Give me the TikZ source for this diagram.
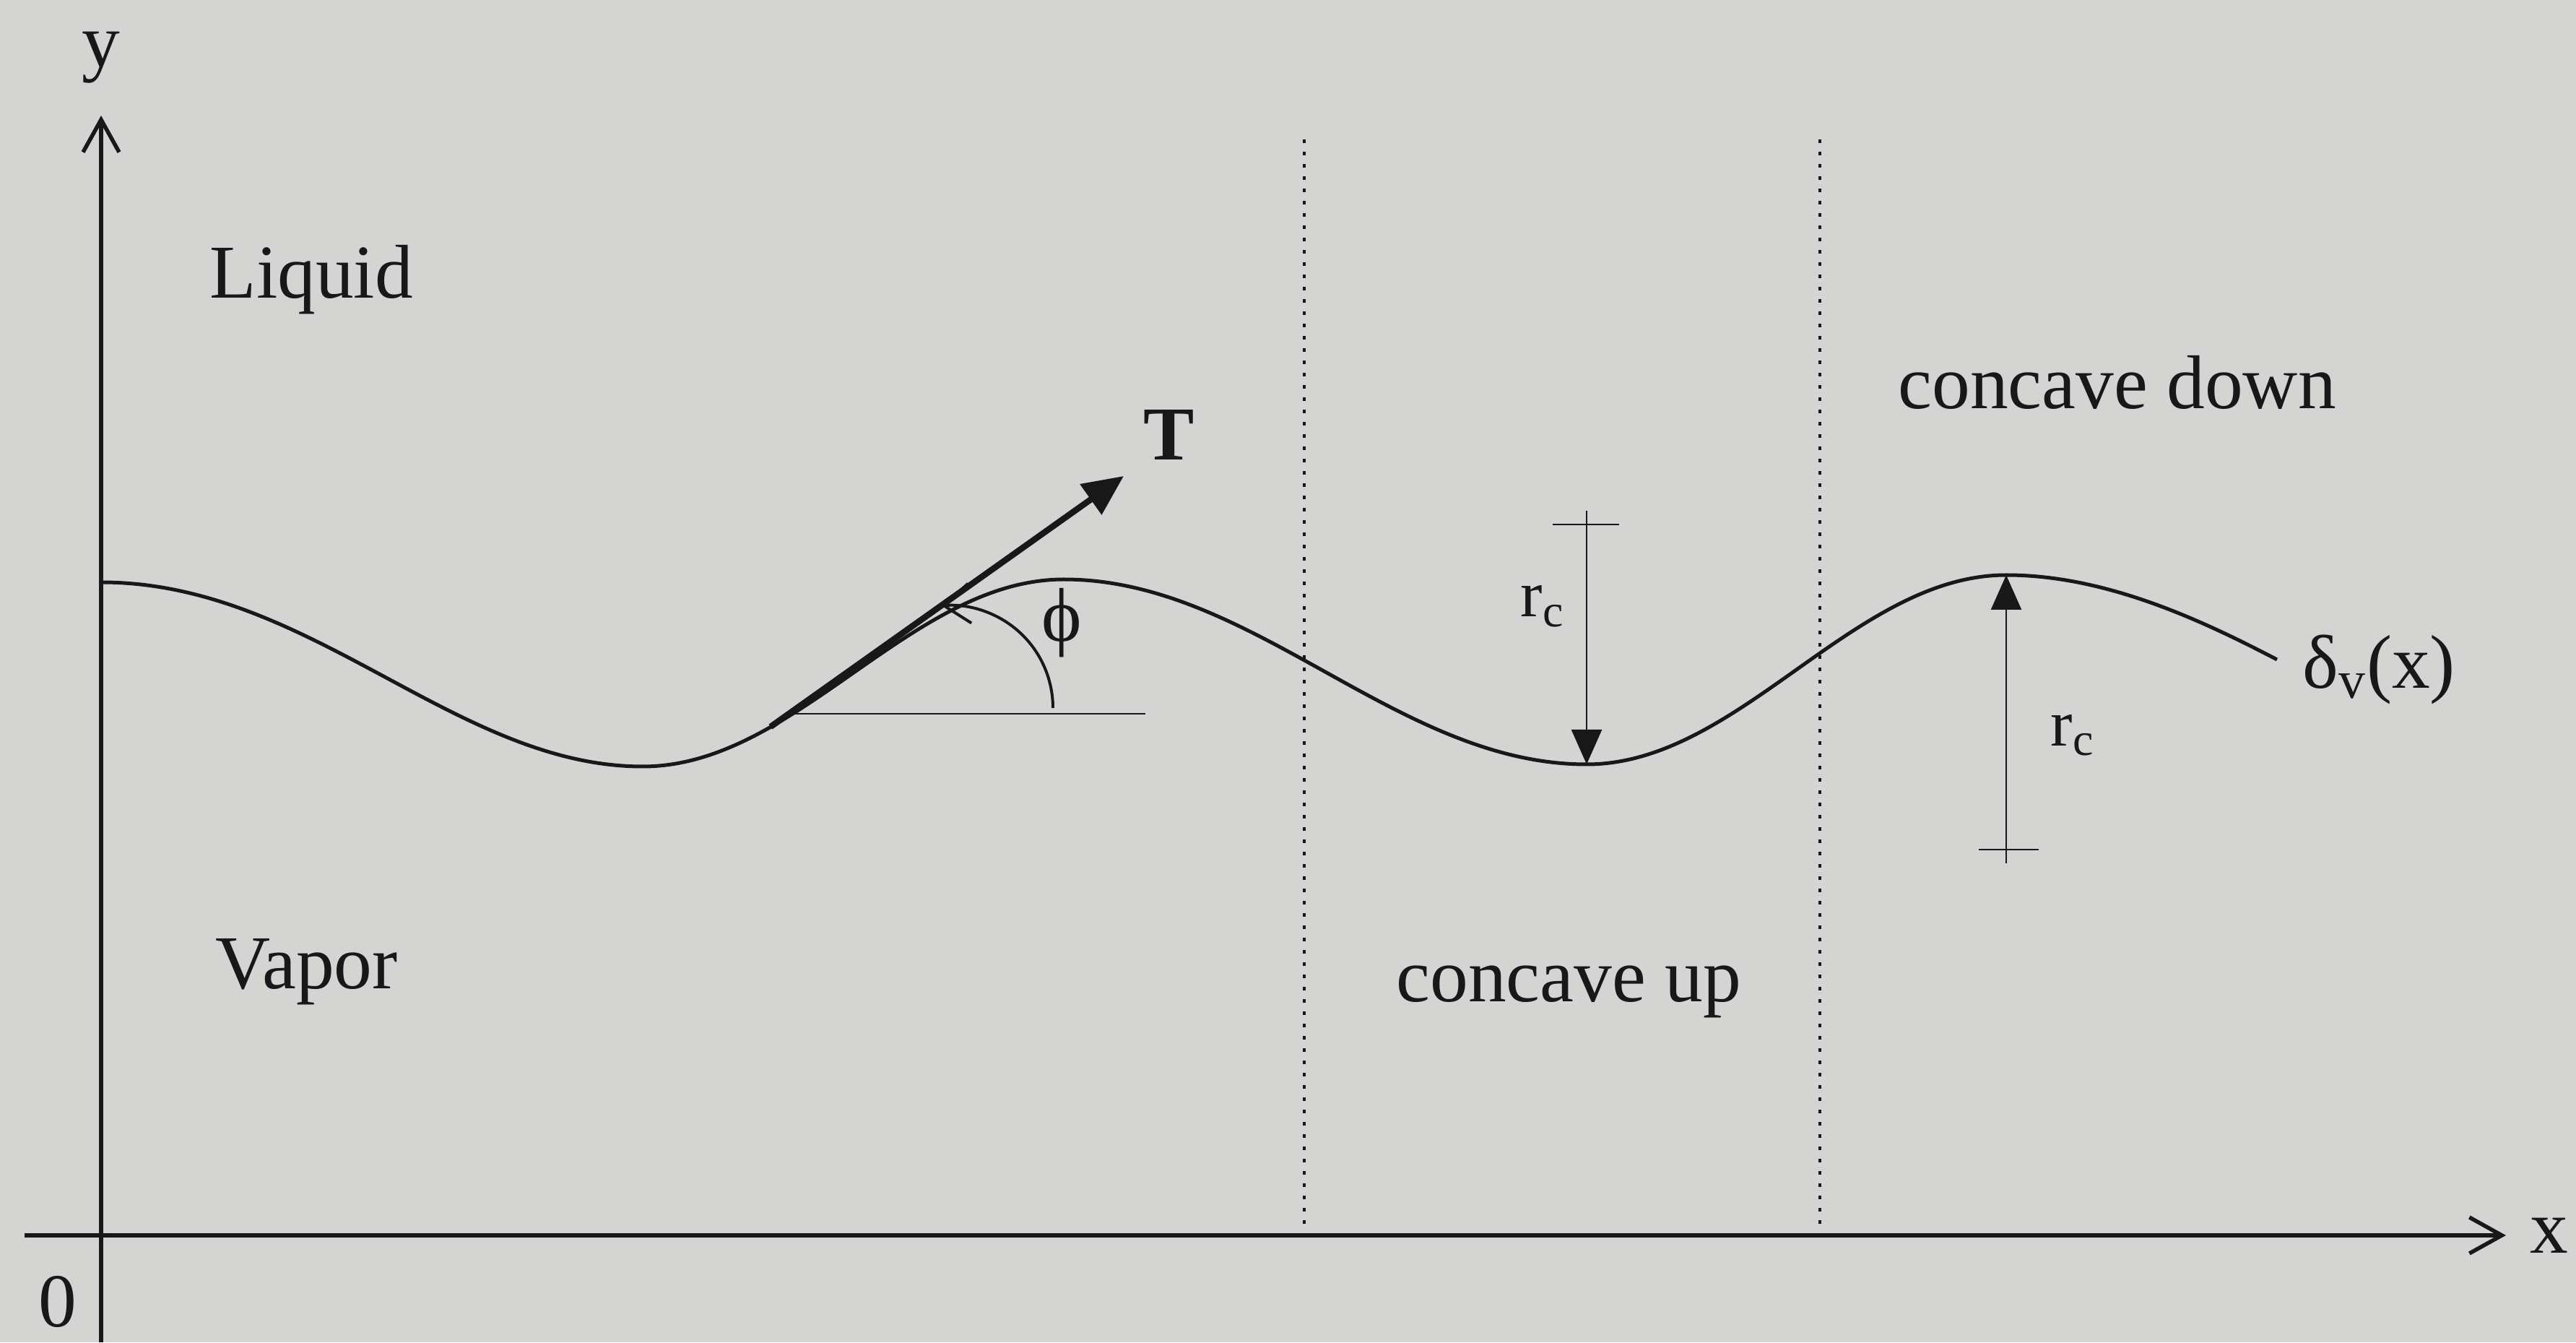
\documentclass[tikz,border=0pt]{standalone}
\usepackage{fontspec}
\setmainfont{Liberation Serif}
\usepackage{tikz}
\usetikzlibrary{calc, arrows.meta, positioning}
\definecolor{paper}{RGB}{212,212,210}
\definecolor{ink}{RGB}{24,24,24}

\begin{document}
\begin{tikzpicture}[
    >=Stealth,
    axis/.style={line width=0.055cm, draw=ink, -{Straight Barb[length=0.45cm, width=0.5cm]}},
    iface/.style={line width=0.05cm, draw=ink},
    guide/.style={line width=0.035cm, draw=ink, dash pattern=on 0.05cm off 0.12cm},
    thinline/.style={line width=0.025cm, draw=ink},
    rarrow/.style={thinline, -{Triangle[length=0.48cm, width=0.42cm]}},
    tarrow/.style={line width=0.085cm, draw=ink, -{Triangle[length=0.56cm, width=0.5cm]}},
    anglearrow/.style={line width=0.04cm, draw=ink, -{Straight Barb[length=0.36cm, width=0.55cm]}},
    lbl/.style={font=\fontsize{30}{36}\selectfont, inner sep=0pt, text=ink},
    sublbl/.style={font=\fontsize{26}{31}\selectfont, inner sep=0pt, text=ink}
  ]
  \useasboundingbox (0,0) rectangle (35.67,18.58);
  \fill[paper] (0,0) rectangle (35.67,18.58);
  % Axes
  \coordinate (origin) at (1.40,1.48);
  \coordinate (ybot) at (1.40,0);
  \coordinate (ytip) at (1.40,16.98);
  \coordinate (xleft) at (0.34,1.48);
  \coordinate (xtip) at (34.70,1.48);
  \draw[axis] (ybot) -- (ytip);
  \draw[axis] (xleft) -- (xtip);
  \node[lbl, above=0.44cm of ytip] (ylab) {y};
  \node[lbl, right=0.33cm of xtip] (xlab) {x};
  \node[lbl] (zero) at (0.80,0.56) {0};
  % Region boundaries
  \coordinate (g1top) at (18.06,16.65);
  \coordinate (g1bot) at (18.06,1.55);
  \coordinate (g2top) at (25.20,16.65);
  \coordinate (g2bot) at (25.20,1.55);
  \draw[guide] (g1top) -- (g1bot);
  \draw[guide] (g2top) -- (g2bot);
  % Interface
  \coordinate (c0) at (1.40,10.52);
  \coordinate (m1) at (8.90,7.97);
  \coordinate (p1) at (14.73,10.56);
  \coordinate (m2) at (21.97,8.00);
  \coordinate (p2) at (27.78,10.62);
  \coordinate (cend) at (31.53,9.45);
  \draw[iface] (c0) .. controls +(2.9,0) and +(-2.6,0) .. (m1)
    .. controls +(2.12,0) and +(-2.12,0) .. (p1)
    .. controls +(2.63,0) and +(-2.63,0) .. (m2)
    .. controls +(2.11,0) and +(-2.11,0) .. (p2)
    .. controls +(1.4,0) and +(-1.0,0.52) .. (cend);
  \node[lbl, anchor=base west] (delta) at (31.88,9.05) {δ\textsubscript{v}(x)};
  % Tension and angle
  \coordinate (tbase) at (10.67,8.52);
  \coordinate (ttip) at (15.56,11.99);
  \coordinate (href) at (10.92,8.70);
  \coordinate (hend) at (15.86,8.70);
  \draw[thinline] (href) -- (hend);
  \draw[tarrow] (tbase) -- (ttip);
  \node[lbl, anchor=base west] (tlab) at (15.83,12.21) {\textbf{T}};
  \coordinate (arcstart) at (14.58,8.78);
  \draw[anglearrow] (arcstart) arc[start angle=0, end angle=95, radius=1.42];
  \node[lbl] (phi) at (14.70,9.96) {ϕ};
  % Radii of curvature
  \coordinate (rc1top) at (21.97,11.51);
  \coordinate (rc2bot) at (27.78,6.63);
  \draw[rarrow] (rc1top) -- (m2);
  \draw[rarrow] (rc2bot) -- (p2);
  \draw[thinline] ([xshift=-0.47cm,yshift=-0.19cm]rc1top) -- ++(0.92,0);
  \draw[thinline] ([xshift=-0.38cm,yshift=0.19cm]rc2bot) -- ++(0.83,0);
  \node[sublbl, anchor=base west] (rc1) at (21.05,10.04) {r\textsubscript{c}};
  \node[sublbl, anchor=base west] (rc2) at (28.39,8.26) {r\textsubscript{c}};
  % Regions
  \node[lbl, anchor=base west] (liquid) at (2.90,14.45) {Liquid};
  \node[lbl, anchor=base west] (vapor) at (2.98,4.90) {Vapor};
  \node[lbl, anchor=base west] (cup) at (19.33,4.72) {concave up};
  \node[lbl, anchor=base west] (cdown) at (26.28,12.92) {concave down};
\end{tikzpicture}
\end{document}
